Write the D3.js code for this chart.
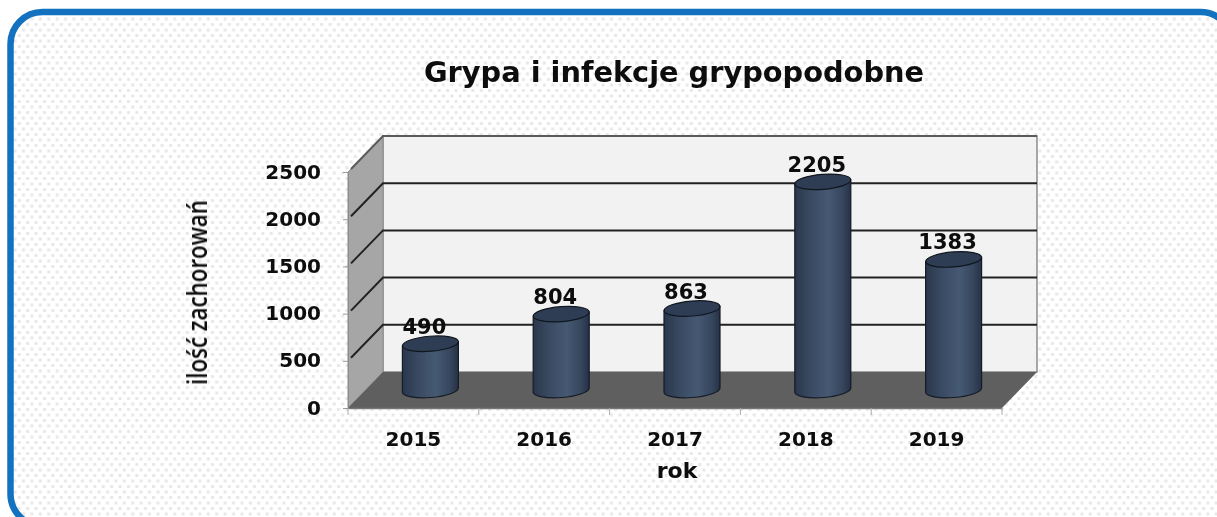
<!DOCTYPE html>
<html lang="pl">
<head>
<meta charset="utf-8">
<title>Grypa i infekcje grypopodobne</title>
<script src="https://cdn.jsdelivr.net/npm/d3@7"></script>
<style>
html,body{margin:0;padding:0;background:#fff;overflow:hidden;}
svg{display:block;}
text{fill:#0a0a0a;font-family:"DejaVu Sans",sans-serif;font-weight:bold;}
</style>
</head>
<body>
<div class="chart"></div>
<script>
// dane
const years = ['2015','2016','2017','2018','2019'];
const cases = [490,804,863,2205,1383];
const yTicks = [0,500,1000,1500,2000,2500];
const chartTitle = 'Grypa i infekcje grypopodobne';
const yTitle = 'ilość zachorowań';
const xTitle = 'rok';

const svg_width = 1217;
const svg_height = 517;
const plot = {left:348,right:1002,top:172,bottom:408};
const depth = {x:35,y:36}; // przesunięcie ściany tylnej (3D)
const barMid = {x:17,y:18}; // walec stoi w połowie głębokości

const svg = d3.select('.chart').append('svg')
    .attr('width',svg_width).attr('height',svg_height);
const defs = svg.append('defs');

// tło w kropki
const dots = defs.append('pattern').attr('id','dots').attr('patternUnits','userSpaceOnUse')
    .attr('width',8.4).attr('height',11);
[[1,1],[5.2,6.5]].forEach(p=>{
    dots.append('rect').attr('x',p[0]).attr('y',p[1]).attr('width',3).attr('height',3)
        .style('fill','#e8e8e8');
});

// gradient walca
const barGrad = defs.append('linearGradient').attr('id','barGrad');
[[0,'#2a374b'],[0.3,'#3a4b63'],[0.6,'#465973'],[0.85,'#36465d'],[1,'#263246']].forEach(s=>{
    barGrad.append('stop').attr('offset',s[0]).attr('stop-color',s[1]);
});

defs.append('filter').attr('id','soft').append('feGaussianBlur').attr('stdDeviation',0.45);

svg.append('rect').attr('width',svg_width).attr('height',svg_height).style('fill','#fff');
svg.append('rect').attr('x',10.5).attr('y',12).attr('width',1222).attr('height',514).attr('rx',32)
    .style('fill','url(#dots)').style('stroke','#1272bf').style('stroke-width',6.5);

const xScale = d3.scaleBand().domain(years).range([plot.left,plot.right]);
const yScale = d3.scaleLinear().domain([0,2500]).range([plot.bottom,plot.top]);

const g = svg.append('g').attr('filter','url(#soft)');

// ściany
const poly = pts => pts.map(p=>p.join(',')).join(' ');
g.append('polygon')
    .attr('points',poly([[plot.left+depth.x,plot.top-depth.y],[plot.right+depth.x,plot.top-depth.y],
        [plot.right+depth.x,plot.bottom-depth.y],[plot.left+depth.x,plot.bottom-depth.y]]))
    .style('fill','#f2f2f2').style('stroke','#8c8c8c').style('stroke-width',1.5);
g.append('polygon')
    .attr('points',poly([[plot.left,plot.top],[plot.left+depth.x,plot.top-depth.y],
        [plot.left+depth.x,plot.bottom-depth.y],[plot.left,plot.bottom]]))
    .style('fill','#a6a6a6').style('stroke','#8c8c8c').style('stroke-width',1);
g.append('polygon')
    .attr('points',poly([[plot.left,plot.bottom],[plot.left+depth.x,plot.bottom-depth.y],
        [plot.right+depth.x,plot.bottom-depth.y],[plot.right,plot.bottom]]))
    .style('fill','#5f5f5f');

// linie siatki
const inner = yTicks.filter(d=>d>0);
g.selectAll('.grid').data(inner).enter().append('polyline').attr('class','grid')
    .attr('points',d=>poly([[plot.left+3,yScale(d)-3],[plot.left+depth.x,yScale(d)-depth.y],[plot.right+depth.x,yScale(d)-depth.y]]))
    .style('fill','none')
    .style('stroke',d=>d===2500?'#5a5a5a':'#222')
    .style('stroke-width',2);

// osie
const xAxis = d3.axisBottom(xScale).tickSize(0).tickPadding(24);
const xAxisDraw = g.append('g').attr('transform',`translate(0,${plot.bottom})`).call(xAxis);
xAxisDraw.select('.domain').style('stroke','#777').style('stroke-width',1.5);
xAxisDraw.selectAll('text').style('font-size','20px');
g.selectAll('.xtick').data(d3.range(years.length+1)).enter().append('line').attr('class','xtick')
    .attr('x1',i=>plot.left+i*xScale.bandwidth()).attr('x2',i=>plot.left+i*xScale.bandwidth())
    .attr('y1',plot.bottom).attr('y2',plot.bottom+7)
    .style('stroke','#aaa');

const yAxis = d3.axisLeft(yScale).tickValues(yTicks).tickFormat(d3.format('d')).tickSize(5).tickPadding(21);
const yAxisDraw = g.append('g').attr('transform',`translate(${plot.left},0)`).call(yAxis);
yAxisDraw.select('.domain').style('stroke','#8c8c8c');
yAxisDraw.selectAll('line').style('stroke','#999');
yAxisDraw.selectAll('text').style('font-size','20px').attr('dy','0.3em').attr('dx','-1');

// walce
const rx = 28, ry = 7.5, tilt = -4.5, tiltDy = Math.tan(-tilt*Math.PI/180)*rx;
const cx = d => xScale(d.year)+xScale.bandwidth()/2+barMid.x;
const topY = d => yScale(d.value)-barMid.y;
const baseY = plot.bottom-barMid.y;
const data = years.map((y,i)=>({year:y,value:cases[i]}));

const bars = g.selectAll('.bar').data(data).enter().append('g').attr('class','bar');
bars.append('path')
    .attr('d',d=>{
        const x0=cx(d)-rx,x1=cx(d)+rx;
        return `M${x0},${topY(d)+tiltDy}L${x1},${topY(d)-tiltDy}L${x1},${baseY-tiltDy}`+
            `A${rx},${ry} ${tilt} 0 1 ${x0},${baseY+tiltDy}Z`;
    })
    .style('fill','url(#barGrad)').style('stroke','#151b26').style('stroke-width',1.2);
bars.append('ellipse')
    .attr('cx',cx).attr('cy',topY).attr('rx',rx).attr('ry',ry)
    .attr('transform',d=>`rotate(${tilt},${cx(d)},${topY(d)})`)
    .style('fill','#2f3e53').style('stroke','#11161f').style('stroke-width',1.2);

bars.append('text')
    .attr('x',d=>cx(d)-6).attr('y',d=>topY(d)-10)
    .attr('text-anchor','middle').style('font-size','21px')
    .text(d=>d.value);

// tytuły
g.append('text').attr('x',674).attr('y',82).attr('text-anchor','middle')
    .style('font-size','28.8px').text(chartTitle);
g.append('text').attr('x',677).attr('y',478).attr('text-anchor','middle')
    .style('font-size','22px').text(xTitle);
g.append('text').attr('transform','translate(207,292.5) rotate(-90)').attr('text-anchor','middle')
    .attr('textLength',185).attr('lengthAdjust','spacingAndGlyphs')
    .style('font-family','"Open Sans",sans-serif').style('font-weight',600)
    .style('font-size','27px').text(yTitle);
</script>
</body>
</html>
